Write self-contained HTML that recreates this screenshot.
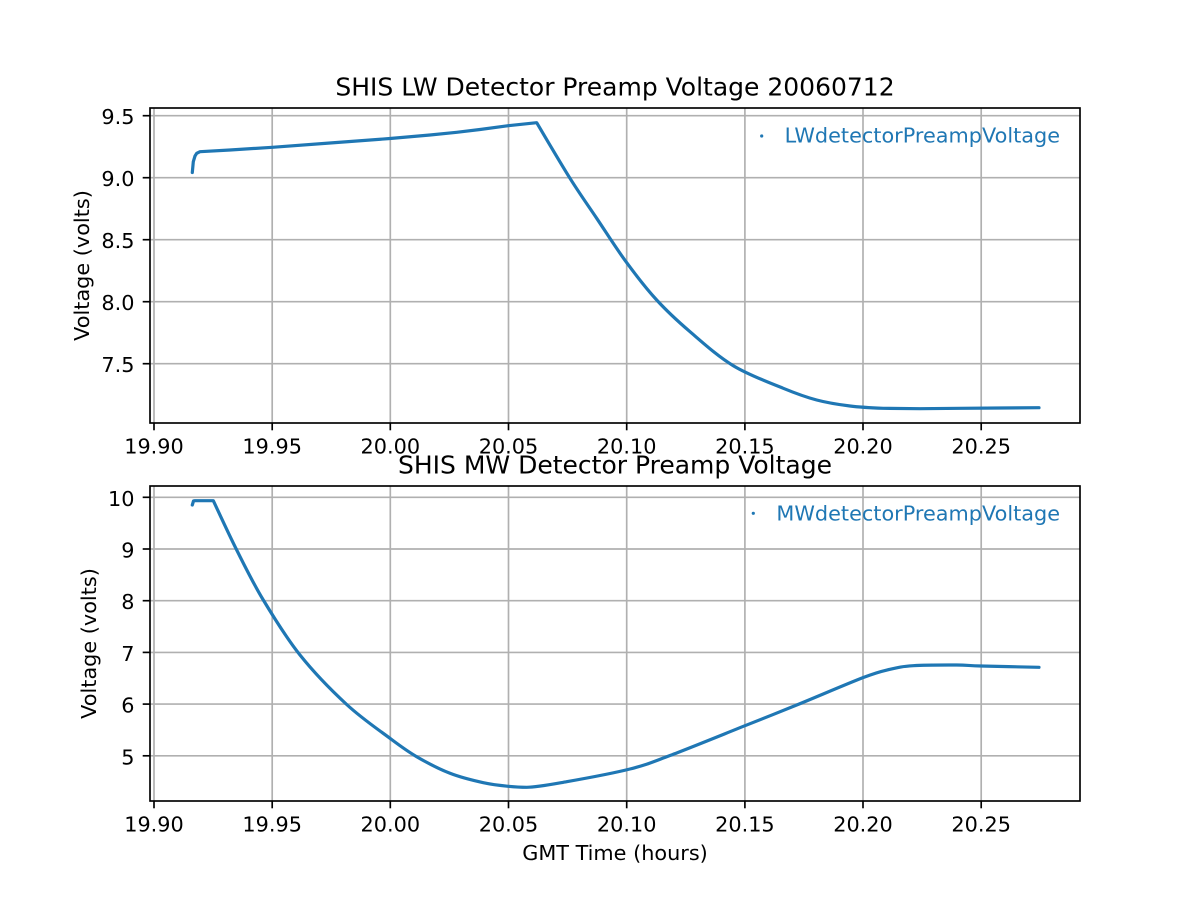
<!DOCTYPE html>
<html>
<head>
<meta charset="utf-8">
<style>
html,body{margin:0;padding:0;background:#fff;}
svg{display:block;}
text{font-family:"DejaVu Sans","Liberation Sans",sans-serif;fill:#000;}
</style>
</head>
<body>
<svg width="1200" height="900" viewBox="0 0 1200 900" xmlns="http://www.w3.org/2000/svg">
<rect x="0" y="0" width="1200" height="900" fill="#fff"/>

<!-- ===== TOP AXES ===== -->
<g stroke="#b0b0b0" stroke-width="1.67" fill="none">
  <line x1="154" y1="108" x2="154" y2="423"/>
  <line x1="272.2" y1="108" x2="272.2" y2="423"/>
  <line x1="390.3" y1="108" x2="390.3" y2="423"/>
  <line x1="508.5" y1="108" x2="508.5" y2="423"/>
  <line x1="626.7" y1="108" x2="626.7" y2="423"/>
  <line x1="744.9" y1="108" x2="744.9" y2="423"/>
  <line x1="863" y1="108" x2="863" y2="423"/>
  <line x1="981.2" y1="108" x2="981.2" y2="423"/>
  <line x1="150" y1="115.7" x2="1080" y2="115.7"/>
  <line x1="150" y1="177.7" x2="1080" y2="177.7"/>
  <line x1="150" y1="239.7" x2="1080" y2="239.7"/>
  <line x1="150" y1="301.7" x2="1080" y2="301.7"/>
  <line x1="150" y1="363.7" x2="1080" y2="363.7"/>
</g>

<path fill="none" stroke="#1f77b4" stroke-width="3.2" stroke-linejoin="round" stroke-linecap="round"
 d="M192.3,172.5 L193.3,161.7 L195,156 L196.7,153.3 L200,151.7 L230,150 L272.3,147.3 L330,143 L390,138.5 L430,135 L456.7,132.3 L480,129.5 L508.3,125.7 L536.7,122.7
 C542.25,131.97 560,162.37 570,178.3
 C580,194.23 587.37,204.4 596.7,218.3
 C606.03,232.2 616,248.08 626,261.7
 C636,275.32 646.03,288.33 656.7,300
 C667.37,311.67 677.23,320.75 690,331.7
 C702.77,342.65 717.75,356.27 733.3,365.7
 C748.85,375.13 769.4,382.58 783.3,388.3
 C797.2,394.02 805.58,397.05 816.7,400
 C827.82,402.95 838.9,404.62 850,406
 C861.1,407.38 871.63,407.85 883.3,408.3
 L920,408.7 L960,408.3 L1000,408 L1039,407.7"/>

<g stroke="#000" stroke-width="1.67" fill="none">
  <rect x="150" y="108" width="930" height="315"/>
  <line x1="154" y1="423" x2="154" y2="430.3"/>
  <line x1="272.2" y1="423" x2="272.2" y2="430.3"/>
  <line x1="390.3" y1="423" x2="390.3" y2="430.3"/>
  <line x1="508.5" y1="423" x2="508.5" y2="430.3"/>
  <line x1="626.7" y1="423" x2="626.7" y2="430.3"/>
  <line x1="744.9" y1="423" x2="744.9" y2="430.3"/>
  <line x1="863" y1="423" x2="863" y2="430.3"/>
  <line x1="981.2" y1="423" x2="981.2" y2="430.3"/>
  <line x1="142.7" y1="115.7" x2="150" y2="115.7"/>
  <line x1="142.7" y1="177.7" x2="150" y2="177.7"/>
  <line x1="142.7" y1="239.7" x2="150" y2="239.7"/>
  <line x1="142.7" y1="301.7" x2="150" y2="301.7"/>
  <line x1="142.7" y1="363.7" x2="150" y2="363.7"/>
</g>

<g font-size="20.8" text-anchor="middle">
  <text x="154" y="453.3">19.90</text>
  <text x="272.2" y="453.3">19.95</text>
  <text x="390.3" y="453.3">20.00</text>
  <text x="508.5" y="453.3">20.05</text>
  <text x="626.7" y="453.3">20.10</text>
  <text x="744.9" y="453.3">20.15</text>
  <text x="863" y="453.3">20.20</text>
  <text x="981.2" y="453.3">20.25</text>
</g>
<g font-size="20.8" text-anchor="end">
  <text x="134.5" y="124">9.5</text>
  <text x="134.5" y="186">9.0</text>
  <text x="134.5" y="248">8.5</text>
  <text x="134.5" y="310">8.0</text>
  <text x="134.5" y="372">7.5</text>
</g>
<text font-size="20.8" text-anchor="middle" transform="translate(89,265.5) rotate(-90)">Voltage (volts)</text>
<text font-size="25" text-anchor="middle" x="615" y="95.5">SHIS LW Detector Preamp Voltage 20060712</text>

<circle cx="761.7" cy="136" r="1.6" fill="#1f77b4"/>
<text font-size="20.8" x="1060" y="142.7" text-anchor="end" style="fill:#1f77b4">LWdetectorPreampVoltage</text>

<!-- ===== BOTTOM AXES ===== -->
<g stroke="#b0b0b0" stroke-width="1.67" fill="none">
  <line x1="154" y1="486" x2="154" y2="801"/>
  <line x1="272.2" y1="486" x2="272.2" y2="801"/>
  <line x1="390.3" y1="486" x2="390.3" y2="801"/>
  <line x1="508.5" y1="486" x2="508.5" y2="801"/>
  <line x1="626.7" y1="486" x2="626.7" y2="801"/>
  <line x1="744.9" y1="486" x2="744.9" y2="801"/>
  <line x1="863" y1="486" x2="863" y2="801"/>
  <line x1="981.2" y1="486" x2="981.2" y2="801"/>
  <line x1="150" y1="497.3" x2="1080" y2="497.3"/>
  <line x1="150" y1="549" x2="1080" y2="549"/>
  <line x1="150" y1="600.7" x2="1080" y2="600.7"/>
  <line x1="150" y1="652.4" x2="1080" y2="652.4"/>
  <line x1="150" y1="704.1" x2="1080" y2="704.1"/>
  <line x1="150" y1="755.8" x2="1080" y2="755.8"/>
</g>

<path fill="none" stroke="#1f77b4" stroke-width="3.2" stroke-linejoin="round" stroke-linecap="round"
 d="M192.3,505 L193.5,501 L195,500.7 L213.3,500.7
 C217.2,508.92 228.37,533.45 236.7,550
 C245.03,566.55 252.75,582.5 263.3,600
 C273.85,617.5 286.1,637.58 300,655
 C313.9,672.42 331.7,690.62 346.7,704.5
 C361.7,718.38 378.33,729.6 390,738.3
 C401.67,747 406.7,750.87 416.7,756.7
 C426.7,762.53 438.9,768.97 450,773.3
 C461.1,777.63 473.58,780.58 483.3,782.7
 C493.02,784.82 501.07,785.6 508.3,786.3
 C515.53,787 519,787.3 526.7,787.3
 C536.43,787.3 549.48,784.75 566.7,781.7
 C583.92,778.65 612.78,773.37 630,769
 C647.22,764.63 650.83,762.72 670,755.5
 C689.17,748.28 723.88,734.12 745,725.7
 C766.12,717.28 776.98,713.03 796.7,705
 C816.42,696.97 847.75,683.45 863.3,677.5
 C878.85,671.55 881.67,671.27 890,669.3
 C898.33,667.33 902.18,666.42 913.3,665.7
 C924.42,664.98 945.42,664.95 956.7,665
 C967.98,665.05 967.28,665.62 981,666
 C994.72,666.38 1029.33,667.08 1039,667.3"/>

<g stroke="#000" stroke-width="1.67" fill="none">
  <rect x="150" y="486" width="930" height="315"/>
  <line x1="154" y1="801" x2="154" y2="808.3"/>
  <line x1="272.2" y1="801" x2="272.2" y2="808.3"/>
  <line x1="390.3" y1="801" x2="390.3" y2="808.3"/>
  <line x1="508.5" y1="801" x2="508.5" y2="808.3"/>
  <line x1="626.7" y1="801" x2="626.7" y2="808.3"/>
  <line x1="744.9" y1="801" x2="744.9" y2="808.3"/>
  <line x1="863" y1="801" x2="863" y2="808.3"/>
  <line x1="981.2" y1="801" x2="981.2" y2="808.3"/>
  <line x1="142.7" y1="497.3" x2="150" y2="497.3"/>
  <line x1="142.7" y1="549" x2="150" y2="549"/>
  <line x1="142.7" y1="600.7" x2="150" y2="600.7"/>
  <line x1="142.7" y1="652.4" x2="150" y2="652.4"/>
  <line x1="142.7" y1="704.1" x2="150" y2="704.1"/>
  <line x1="142.7" y1="755.8" x2="150" y2="755.8"/>
</g>

<g font-size="20.8" text-anchor="middle">
  <text x="154" y="831.3">19.90</text>
  <text x="272.2" y="831.3">19.95</text>
  <text x="390.3" y="831.3">20.00</text>
  <text x="508.5" y="831.3">20.05</text>
  <text x="626.7" y="831.3">20.10</text>
  <text x="744.9" y="831.3">20.15</text>
  <text x="863" y="831.3">20.20</text>
  <text x="981.2" y="831.3">20.25</text>
</g>
<g font-size="20.8" text-anchor="end">
  <text x="134.5" y="505.8">10</text>
  <text x="134.5" y="557.5">9</text>
  <text x="134.5" y="609.2">8</text>
  <text x="134.5" y="660.9">7</text>
  <text x="134.5" y="712.6">6</text>
  <text x="134.5" y="764.3">5</text>
</g>
<text font-size="20.8" text-anchor="middle" transform="translate(96,643.5) rotate(-90)">Voltage (volts)</text>
<text font-size="25" text-anchor="middle" x="615" y="473.5">SHIS MW Detector Preamp Voltage</text>
<text font-size="20.8" text-anchor="middle" x="615" y="860">GMT Time (hours)</text>

<circle cx="753.3" cy="513.3" r="1.6" fill="#1f77b4"/>
<text font-size="20.8" x="1060" y="520.7" text-anchor="end" style="fill:#1f77b4">MWdetectorPreampVoltage</text>
</svg>
</body>
</html>
